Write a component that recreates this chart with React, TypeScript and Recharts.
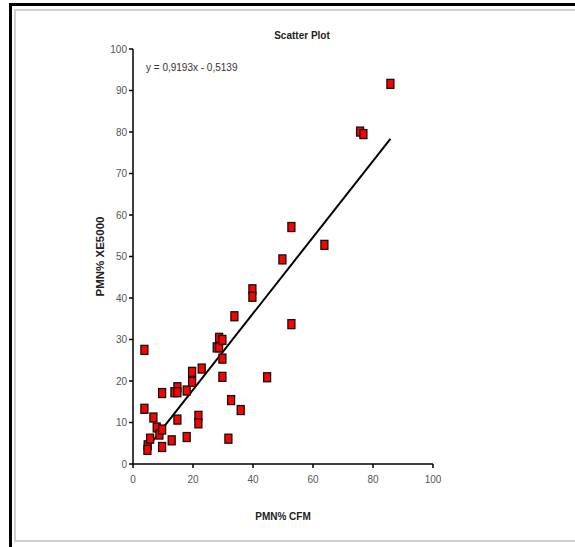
import React from 'react';
import { ScatterChart, Scatter, XAxis, YAxis, ReferenceLine } from 'recharts';

const CFM: number[] = [3.8, 3.8, 4.9, 4.8, 5.7, 6.8, 7.9, 8.8, 9.7, 9.7, 9.7, 12.9, 13.8, 14.8, 14.8, 14.8, 17.9, 17.9, 19.7, 19.7, 21.8, 21.8, 22.9, 27.9, 28.7, 28.7, 29.8, 29.8, 29.8, 31.8, 32.7, 33.8, 35.9, 39.8, 39.8, 44.7, 49.8, 52.8, 52.8, 63.8, 75.7, 76.8, 85.8];
const XE5000: number[] = [27.5, 13.3, 4.5, 3.4, 6.1, 11.2, 8.8, 7.1, 8.3, 4.1, 17.1, 5.7, 17.3, 18.5, 17.3, 10.7, 6.5, 17.7, 19.8, 22.2, 11.6, 9.8, 23.0, 28.1, 28.1, 30.4, 29.9, 25.4, 21.0, 6.1, 15.4, 35.6, 13.0, 42.1, 40.3, 20.9, 49.3, 33.7, 57.1, 52.8, 80.1, 79.5, 91.6];

const X_TICKS = [0, 20, 40, 60, 80, 100];
const Y_TICKS = [0, 10, 20, 30, 40, 50, 60, 70, 80, 90, 100];

const TREND_SLOPE = 0.9193;
const TREND_INTERCEPT = -0.5139;
const TITLE = 'Scatter Plot';
const EQUATION = 'y = 0,9193x - 0,5139';
const X_LABEL = 'PMN% CFM';
const Y_LABEL = 'PMN% XE5000';

const points = CFM.map((x, i) => ({ x, y: XE5000[i] }));
const xMin = Math.min(...CFM);
const xMax = Math.max(...CFM);
const trendSegment = [
  { x: xMin, y: TREND_SLOPE * xMin + TREND_INTERCEPT },
  { x: xMax, y: TREND_SLOPE * xMax + TREND_INTERCEPT },
];

const FONT = '"Liberation Sans", Arial, sans-serif';

const SquareMarker = (props: any) => {
  const { cx, cy } = props;
  if (cx == null || cy == null) return null;
  return (
    <rect x={cx - 3.5} y={cy - 4.5} width={7} height={9} fill="#ff0000" stroke="#111" strokeWidth={1.3} />
  );
};

export default function App() {
  return (
    <div style={{ position: 'absolute', left: 0, top: 0, width: 575, height: 547, background: '#fff', fontFamily: FONT, overflow: 'hidden' }}>
      {/* frame */}
      <div style={{ position: 'absolute', left: 9, top: 3, width: 566, height: 3, background: '#000' }} />
      <div style={{ position: 'absolute', left: 9, top: 3, width: 3, height: 544, background: '#000' }} />
      <div style={{ position: 'absolute', left: 14, top: 9, width: 561, height: 2, background: '#cfcfcf' }} />
      <div style={{ position: 'absolute', left: 14, top: 9, width: 2, height: 533, background: '#cfcfcf' }} />
      <div style={{ position: 'absolute', left: 14, top: 540, width: 561, height: 2, background: '#cfcfcf' }} />

      <div style={{ position: 'absolute', left: 0, top: 0 }}>
        <ScatterChart width={575} height={547} margin={{ top: 49, right: 142, bottom: 53, left: 93 }}>
          <XAxis
            type="number"
            dataKey="x"
            domain={[0, 100]}
            ticks={X_TICKS}
            interval={0}
            tickSize={4}
            tickMargin={8}
            height={30}
            stroke="#000"
            strokeWidth={1.5}
            tick={{ fill: '#555', fontSize: 10, fontFamily: FONT }}
            label={{
              content: (p: any) => {
                const vb = p.viewBox || {};
                return (
                  <text x={vb.x + vb.width / 2} y={vb.y + 56} textAnchor="middle" fontFamily={FONT} fontSize={10} fontWeight="bold" fill="#222">
                    {X_LABEL}
                  </text>
                );
              },
            }}
          />
          <YAxis
            type="number"
            dataKey="y"
            domain={[0, 100]}
            ticks={Y_TICKS}
            interval={0}
            tickSize={4}
            tickMargin={2}
            width={40}
            stroke="#000"
            strokeWidth={1.5}
            tick={{ fill: '#555', fontSize: 10, fontFamily: FONT }}
            label={{
              content: (p: any) => {
                const vb = p.viewBox || {};
                const cx = vb.x + 11;
                const cy = vb.y + vb.height / 2;
                return (
                  <text x={cx} y={cy} transform={`rotate(-90 ${cx} ${cy})`} textAnchor="middle" fontFamily={FONT} fontSize={11.5} fontWeight="bold" fill="#222">
                    {Y_LABEL}
                  </text>
                );
              },
            }}
          />
          <ReferenceLine segment={trendSegment} stroke="#000" strokeWidth={2} ifOverflow="visible" />
          <Scatter data={points} shape={SquareMarker} isAnimationActive={false} />
        </ScatterChart>
      </div>

      <div style={{ position: 'absolute', left: 252, top: 30, width: 100, textAlign: 'center', fontSize: 10, fontWeight: 'bold', lineHeight: '12px', color: '#222' }}>
        {TITLE}
      </div>
      <div style={{ position: 'absolute', left: 146, top: 62, fontSize: 10, lineHeight: '12px', color: '#333', whiteSpace: 'nowrap' }}>
        {EQUATION}
      </div>
    </div>
  );
}
